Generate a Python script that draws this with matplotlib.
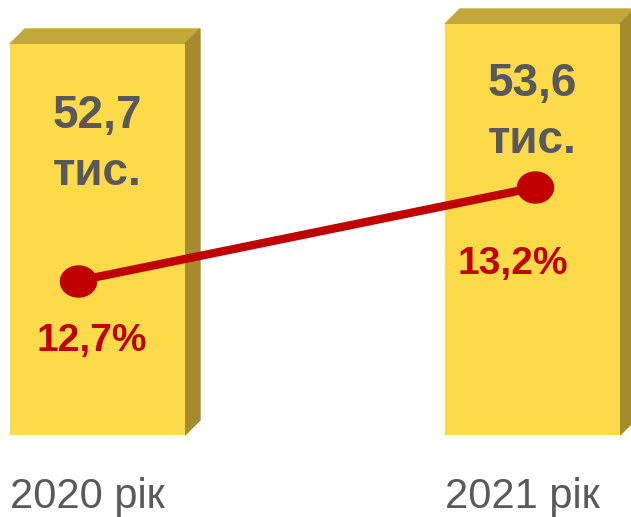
import numpy as np
import matplotlib
matplotlib.use("Agg")
import matplotlib.pyplot as plt
from matplotlib.patches import Polygon
from matplotlib.path import Path

plt.rcParams['font.family'] = ['Liberation Sans', 'DejaVu Sans']

# data
years = ["2020 рік", "2021 рік"]
counts = [52.7, 53.6]            # тис.
count_labels = ["52,7", "53,6"]
shares = [12.7, 13.2]            # %
share_labels = ["12,7%", "13,2%"]

front_col = "#FDDA4A"
top_col = "#C4A73B"
side_col = "#A58B2E"
red = "#C00000"
gray = "#595959"
depth = 15  # px

fig = plt.figure(figsize=(6.31, 5.17), dpi=100)
ax = fig.add_axes([0, 82/517, 1, 425/517])
ax.set_xlim(-0.2241, 1.2264)
ax.set_ylim(35.105, 54.23)
ax.axis("off")

x = np.arange(len(counts))
width = 0.4023
ax.bar(x, counts, width=width, color=front_col, zorder=2)

def shift(px, py):
    d = ax.transData.transform((px, py)) + np.array([depth, depth])
    return ax.transData.inverted().transform(d)

y0 = ax.get_ylim()[0]
for xi, h in zip(x, counts):
    l, r = xi - width/2, xi + width/2
    top = [(l, h), (r, h), tuple(shift(r, h)), tuple(shift(l, h))]
    side = [(r, y0), (r, h), tuple(shift(r, h)), tuple(shift(r, y0))]
    ax.add_patch(Polygon(top, closed=True, color=top_col, zorder=1, clip_on=False))
    ax.add_patch(Polygon(side, closed=True, color=side_col, zorder=1, clip_on=False))

# value labels inside bars
pads = [72, 60]
for xi, h, lab, p in zip(x, counts, count_labels, pads):
    ax.annotate(lab, (xi, h), xytext=(0, -p), textcoords="offset pixels",
                ha="center", va="center", fontsize=33, fontweight="bold", color=gray)
    ax.annotate("тис.", (xi, h), xytext=(0, -p - 57), textcoords="offset pixels",
                ha="center", va="center", fontsize=33, fontweight="bold", color=gray)

# year labels
for xi, lab in zip(x, years):
    ax.annotate(lab, (xi, y0), xytext=(-10, -73), textcoords="offset pixels",
                ha="center", va="baseline", fontsize=30, color=gray, annotation_clip=False)

# share line on second axis
ax2 = fig.add_axes([0, 82/517, 1, 425/517])
ax2.set_xlim(-0.1694, 1.2098)
ax2.set_ylim(11.876, 14.149)
ax2.axis("off")
circ = Path.unit_circle()
ell = Path(circ.vertices * np.array([1.0, 0.86]), circ.codes)
ax2.plot(x, shares, color=red, lw=6, marker=ell, markersize=26,
         solid_capstyle="butt")
label_off = [(14, -60), (-22, -77)]
for xi, s, lab, off in zip(x, shares, share_labels, label_off):
    ax2.annotate(lab, (xi, s), xytext=off, textcoords="offset pixels",
                 ha="center", va="center", fontsize=28, fontweight="bold", color=red)

fig.savefig("out.png", dpi=100)
